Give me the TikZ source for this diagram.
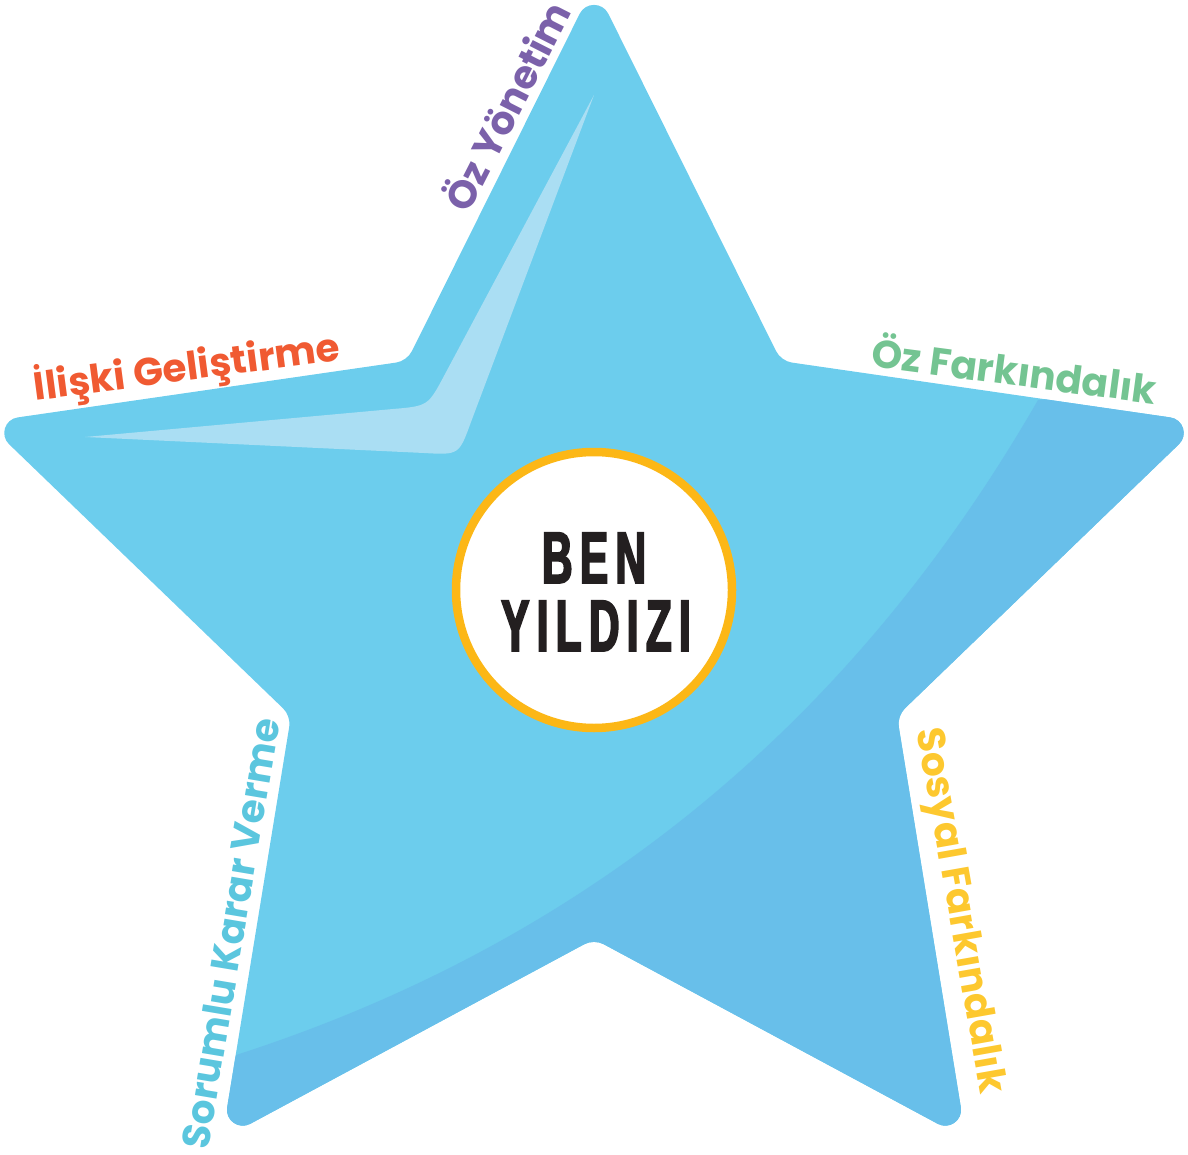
\documentclass[tikz,border=0pt]{standalone}
\usepackage{fontspec}
\usetikzlibrary{calc}
\newfontfamily\tagfont{Poppins}
\newfontfamily\benfont{Liberation Sans}[FakeStretch=0.58,FakeBold=2.5,LetterSpace=10]
\definecolor{starblue}{RGB}{108,205,237}
\definecolor{starshade}{RGB}{104,191,234}
\definecolor{starshine}{RGB}{170,222,243}
\definecolor{ringgold}{RGB}{252,183,22}
\definecolor{inkdark}{RGB}{35,31,32}
\definecolor{tagpurple}{RGB}{123,97,170}
\definecolor{tagred}{RGB}{240,90,50}
\definecolor{taggreen}{RGB}{116,196,146}
\definecolor{tagyellow}{RGB}{253,200,47}
\definecolor{tagcyan}{RGB}{91,198,222}

\begin{document}
\begin{tikzpicture}[x=1pt, y=-1pt,
rcorner/.style n args={5}{insert path={-- ($(#2)!#4!(#1)$) .. controls ($(#2)!#5!(#1)$) and ($(#2)!#5!(#3)$) .. ($(#2)!#4!(#3)$)}},
tag/.style={font=\tagfont\bfseries\fontsize{39}{42}\selectfont, inner sep=0pt},
bentext/.style={font=\benfont\bfseries\fontsize{73}{73}\selectfont, text=inkdark, inner sep=0pt, anchor=base}]

\useasboundingbox (0,0) rectangle (1188,1155);

% star points
\coordinate (T)  at (594,-15);
\coordinate (UR) at (781,361);
\coordinate (R)  at (1202,422);
\coordinate (LR) at (897,716);
\coordinate (BR) at (966,1139);
\coordinate (B)  at (594,939);
\coordinate (BL) at (222,1139);
\coordinate (LL) at (291,716);
\coordinate (L)  at (-14,422);
\coordinate (UL) at (407,361);

\def\starpath{($(T)!0.5!(UR)$)
  [rcorner={T}{UR}{R}{11pt}{4.5pt}] [rcorner={UR}{R}{LR}{32pt}{19pt}]
  [rcorner={R}{LR}{BR}{11pt}{4.5pt}] [rcorner={LR}{BR}{B}{32pt}{19pt}]
  [rcorner={BR}{B}{BL}{11pt}{4.5pt}] [rcorner={B}{BL}{LL}{32pt}{19pt}]
  [rcorner={BL}{LL}{L}{11pt}{4.5pt}] [rcorner={LL}{L}{UL}{32pt}{19pt}]
  [rcorner={L}{UL}{T}{11pt}{4.5pt}] [rcorner={UL}{T}{UR}{32pt}{19pt}] -- cycle}

% STAR
\fill[starblue] \starpath;

% shaded lower part
\begin{scope}
\clip \starpath;
\fill[starshade] (1038,400) .. controls (851,725) and (584,943) .. (236,1055)
  -- (180,1250) -- (1300,1250) -- (1300,380) -- cycle;
\end{scope}

% shine
\fill[starshine] (594,95) -- (444.5,375) .. controls (428,406) .. (393,409)
  -- (85,437) -- (424,453) .. controls (459,455) .. (471,422) -- cycle;

% CENTRE
\node[circle, draw=ringgold, line width=8.5pt, fill=white, minimum size=276pt, inner sep=0pt] (ring) at (594,590) {};
\node[bentext] (ben) at (594,583) {BEN};
\node[bentext] (yildizi) at (596,651) {YILDIZI};

% labels
\node[tag, text=tagpurple, rotate=63] (ozyon) at (505,105) {Öz Yönetim};
\node[tag, text=tagred, rotate=7.5] (iliski) at (187,368) {İlişki Geliştirme};
\node[tag, text=taggreen, rotate=-7.5] (ozfark) at (1015,368) {Öz Farkındalık};
\node[tag, text=tagyellow, rotate=-80] (sosyal) at (958,911) {Sosyal Farkındalık};
\node[tag, text=tagcyan, rotate=80.5] (sorumlu) at (230,933) {Sorumlu Karar Verme};

\end{tikzpicture}
\end{document}
